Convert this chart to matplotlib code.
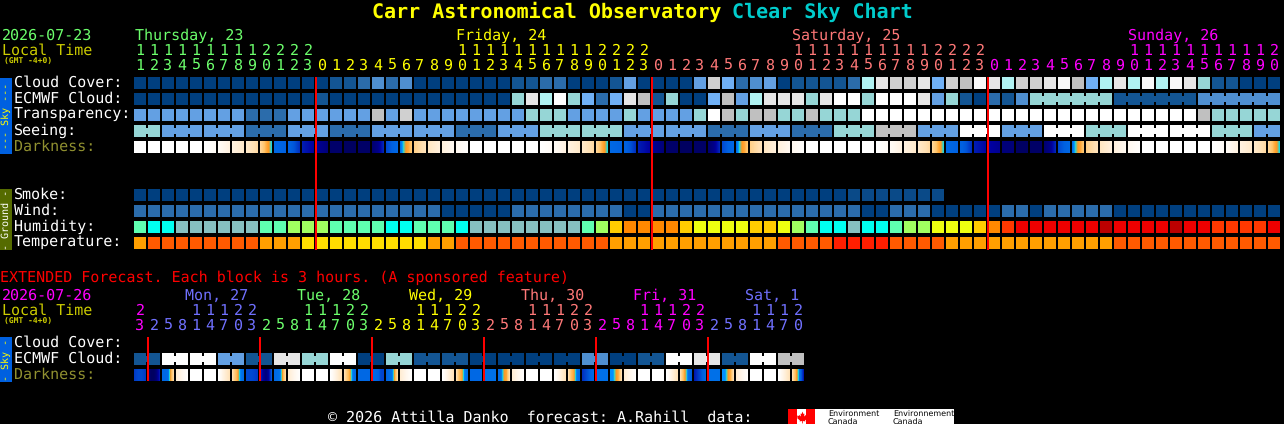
import numpy as np
import matplotlib
matplotlib.use("Agg")
import matplotlib.pyplot as plt
from matplotlib.colors import LinearSegmentedColormap, Normalize

plt.rcParams["text.hinting"] = "no_hinting"
plt.rcParams["text.hinting_factor"] = 1

# ---------- data: one key per block, keys are looked up in PALETTE ----------
CLOUD_COVER = list("aaaaaaaaaaaaaabbcdcda" "aaaaaabbccaaabeaaaaehfcdeabbbbc"
                   "uihhifhgjiuhhijgfuiujujitbbaaa")
ECMWF_CLOUD = list("aaaaaaaaaaaaabaaaaaaaaaaaaa" "tiuwtfcfigbtaafgeuiiitiwwtwwwietbacbd"
                   "tttttt" "bbbbbb" "dddddd")
ECMWF_RUNS = [(6, "t"), (6, "b"), (6, "d")]
TRANSPARENCY = list(
    "eeeeeeee" "ccc" "eeeeee" "g" "e" "h" "eeeeeeee" "ttt" "eeee" "t" "eeee"
    "t" "w" "g" "t" "g" "g" "t" "t" "g" "t" "t" "t"
    "wwwwwwwwwwwwwwwwwwwwwwww" "g" "ttttt")
SEEING_RUNS = [(2, "t"), (3, "e"), (3, "e"), (3, "c"), (3, "e"), (3, "c"), (3, "e"),
               (3, "e"), (3, "c"), (3, "e"), (3, "t"), (3, "t"), (3, "e"), (3, "e"),
               (3, "c"), (3, "e"), (3, "c"), (3, "t"), (3, "g"), (3, "e"), (3, "w"),
               (3, "e"), (3, "w"), (3, "t"), (3, "w"), (3, "w"), (3, "t"), (2, "e")]
SMOKE = list("a" * 51 + "k" * 7)
WIND = list("c" * 22 + "a" * 5 + "c" * 8 + "aa" + "c" * 15 + "aa" + "ccc"
            + "a" * 5 + "cc" + "a" + "c" * 5 + "a" * 12)
HUMIDITY = list("mqq" "vvvvvv" "mmlllmmmmqqmmmq" "vvvvvvvv" "mlo" "pppp" "o" "ssss"
                "oos" "lm" "qqv" "qq" "mll" "sss" "opr" "xxxxxx" "z" "xxxx" "z" "xx" "rrrr" "x")
TEMPERATURE = list("A" + "B" * 8 + "AAA" + "D" * 9 + "AA" + "B" * 11 + "A" * 12
                   + "BBBB" + "EEEE" + "BBBB" + "A" * 12 + "B" * 12)

# limiting magnitude sampled across each block (a single number = flat block)
DARKNESS = [-4, -4, -4, -4, -4, (-4, -3.7), (-3.7, -3.1), (-3.1, -2.6), (-2.6, -1.8),
            (-1.7, -1.3, -0.8, -0.5, 0.2), (1.5, 1.9), (1.9, 2.2, 3.0), (3.4, 4.0),
            (4.2, 4.8), 5.2, 5.5, 5.3, (5.0, 4.5, 3.2), (2.5, 1.5),
            (1.0, 0.2, -0.5, -0.7, -1.2), (-1.5, -2.2), (-2.4, -3), (-3, -3.5), (-3.5, -3.9),
            -4, -4, -4, -4, -4, (-4, -3.7), (-3.7, -3.1), (-3.1, -2.6), (-2.6, -1.8),
            (-1.7, -1.3, -0.8, -0.5, 0.2), (1.5, 1.9), (1.9, 2.2, 3.0), (3.4, 4.0),
            (4.2, 4.8), 5.2, 5.5, 5.3, (5.0, 4.5, 3.2), (2.5, 1.5),
            (1.0, 0.2, -0.5, -0.7, -1.2), (-1.5, -2.2), (-2.4, -3), (-3, -3.5), (-3.5, -3.9),
            -4, -4, -4, -4, -4, (-4, -3.7), (-3.7, -3.1), (-3.1, -2.6), (-2.6, -1.8),
            (-1.7, -1.3, -0.8, -0.5, 0.2), (1.5, 1.9), (1.9, 2.2, 3.0), (3.4, 3.9),
            (3.9, 4.3), 4.8, 5.4, 5.3, (5.0, 4.5, 3.2), (2.5, 1.5),
            (1.0, 0.2, -0.5, -0.7, -1.2), (-1.5, -2.2), (-2.4, -3), (-3, -3.5), (-3.5, -3.9),
            -4, -4, -4, -4, -4, (-4, -3.7), (-3.7, -3.1), (-3.1, -2.6), (-2.6, -1.8),
            (-1.7, -1.3, -0.8, -0.5, 0.2)]

EXT_ECMWF_RUNS = [(2, "b"), (2, "w"), (2, "w"), (2, "e"), (2, "b"), (2, "i"), (2, "t"),
                  (2, "w"), (2, "a"), (2, "t"), (2, "b"), (2, "b"), (2, "a"), (2, "a"),
                  (2, "a"), (2, "a"), (2, "d"), (2, "a"), (2, "b"), (2, "w"), (2, "i"),
                  (2, "b"), (2, "w"), (2, "g")]
EXT_DARKNESS = [(2.8, 2.5, 2.5, 2.8), (4.8, 5.5, 5.5, 4.8, 3.5), (1.5, 1.5, 1.2, -0.6, -1.8),
                (-2.8, -3.4, -3.9), -4, -4, (-4, -3, -2.2), (-2.0, -1.2, -0.6, 0.8, 1.2),
                (2.5, 2.5, 2.8), (3.2, 4.2, 4.8, 4.0, 2.2), (1.5, 1.2, 0.9, -0.6, -1.8),
                (-2.8, -3.9), -4, -4, (-4, -2.2), (-2.0, -1.2, -0.6, 0.8, 1.2),
                1.5, (1.5, 1.5, 1.8, 2.5, 2.6), (1.8, 1.2, 0.9, -0.6, -1.8), (-2.8, -3.9),
                -4, -4, (-4, -2.2), (-2.0, -1.0, -0.6, 0.8, 1.0),
                1.5, 1.0, (1.4, 0.9, -0.4, -0.7, -2.0), (-2.8, -3.9), -4, -4, (-4, -2.2),
                (-2.0, -1.0, -0.6, 0.8, 1.2), (3.0, 1.5), 1.0, (0.5, 0.5, -0.4, -0.8, -2.0),
                (-2.8, -3.9), -4, -4, (-4, -2.2), (-2.0, -1.0, -0.2, 1.2, 2.0), (3.5, 1.5),
                1.0, (0.5, 0.5, -0.4, -0.8, -2.0), (-2.8, -3.9), -4, -4, (-4, -2.2),
                (-2.0, -1.0, -0.1, 1.8, 3.5)]

HOURS = [11, 12, 13, 14, 15, 16, 17, 18, 19, 20, 21, 22, 23] + list(range(24)) * 2 \
    + list(range(21))
HOUR_DAY = [0] * 13 + [1] * 24 + [2] * 24 + [3] * 21
DAY_LABELS = [(0, "Thursday, 23", 0), (23, "Friday, 24", 1), (47, "Saturday, 25", 2),
              (71, "Sunday, 26", 3)]
DAY_COLORS = ["#6CFF6C", "#FFFF00", "#FF7878", "#FF00FF", "#7070FF"]
EXT_HOURS = [23, 2, 5, 8, 11, 14, 17, 20] * 6
EXT_DAY = [3] + [4] * 8 + [0] * 8 + [1] * 8 + [2] * 8 + [3] * 8 + [4] * 7
EXT_LABELS = [(3.64, "Mon, 27", 4), (11.64, "Tue, 28", 0), (19.64, "Wed, 29", 1),
              (27.64, "Thu, 30", 2), (35.64, "Fri, 31", 3), (43.64, "Sat, 1", 4)]

PALETTE = {"a": "#003F7F", "k": "#0A4A88", "b": "#135593", "c": "#2B6CAB", "d": "#4F8FD0",
           "e": "#63A0E3", "f": "#70B0F5", "t": "#96D6D6", "u": "#B0F2F2", "g": "#C0C0C0",
           "h": "#D0D0D0", "i": "#E6E6E6", "j": "#F8F8F8", "w": "#FFFFFF",
           "m": "#5FFFB0", "q": "#00FFF0", "v": "#86C0C0", "l": "#A0FF60", "s": "#EEFF10",
           "o": "#FFCC00", "p": "#FF8800", "r": "#FF3800", "x": "#EE0000", "z": "#BB0000",
           "A": "#FF9F00", "B": "#FF5A00", "D": "#FFDD00", "E": "#FF1E00"}
DARK_NODES = [(-4, "#FFFFFF"), (-3.5, "#FFF8F0"), (-3, "#FFF0DC"), (-2, "#FFDFB0"),
              (-1, "#FFC060"), (-0.5, "#FF9820"), (0.2, "#20D8D8"), (0.5, "#0090FF"),
              (1, "#0070E8"), (2, "#0060E0"), (3, "#0030C0"), (4, "#0000A0"),
              (5, "#000070"), (6, "#000050")]

# ---------- layout ----------
X0, PITCH, SIZE = 134, 14, 12
MONO = "DejaVu Sans Mono"
PX = 72 / 100
fig = plt.figure(figsize=(12.84, 4.24), dpi=100, facecolor="black")
ax = fig.add_axes([0, 0, 1, 1], facecolor="black")
ax.set_axis_off()

norm = Normalize(-4, 6)
cmap = LinearSegmentedColormap.from_list(
    "dark", [((v + 4) / 10, c) for v, c in DARK_NODES], N=512)


def left(i):
    return X0 + PITCH * np.asarray(i)


def rect(x, y, w, h, color, z=2):
    ax.bar(x, h, w, bottom=y, align="edge", color=color, linewidth=0, antialiased=False, zorder=z)


def row(keys, y):
    rect(left(np.arange(len(keys))), y, SIZE, SIZE, [PALETTE[k] for k in keys])


def expand(runs):
    return [k for n, k in runs for _ in range(n)]


def links(runs, y, start=0):
    i = start
    for n, k in runs:
        if n > 1:
            rect(left(np.arange(i, i + n - 1)) + SIZE, y + 3, PITCH - SIZE, SIZE - 6, PALETTE[k])
        i += n


def dark_row(values, y):
    px = np.arange(SIZE + 1)
    for i, v in enumerate(values):
        knots = np.atleast_1d(v)
        pos = np.linspace(0, SIZE - 1, len(knots)) if len(knots) > 1 else np.array([0.0])
        samples = np.interp(px[:-1], pos, knots)
        ax.pcolormesh(left(i) + px, [y, y + SIZE], samples[None, :], cmap=cmap, norm=norm,
                      shading="flat", antialiased=False, linewidth=0, zorder=2)


def txt(x, base, s, color="white", px=15, weight="normal", family=MONO, **kw):
    ax.text(x, base, s, color=color, fontsize=px * PX, fontweight=weight, family=family,
            va="baseline", ha=kw.pop("ha", "left"), zorder=5, **kw)


# title
txt(372, 18, "Carr Astronomical Observatory", "#FFFF00", 20, "bold")
txt(732, 18, "Clear Sky Chart", "#00CCCC", 20, "bold")

# main header
txt(2, 40, "2026-07-23", "#6CFF6C")
txt(2, 55, "Local Time", "#CCCC00")
txt(3.5, 63, "(GMT -4+0)", "#CCCC00", 8, "bold")
for col, label, c in DAY_LABELS:
    txt(left(col) + (1 if col == 0 else 0), 40, label, DAY_COLORS[c])
for i, (h, d) in enumerate(zip(HOURS, HOUR_DAY)):
    c = DAY_COLORS[d]
    if h >= 10:
        txt(left(i) + 6, 55, str(h // 10), c, ha="center")
    txt(left(i) + 6, 70, str(h % 10), c, ha="center")

# main rows
ROW_Y = {"cloud": 77, "ecmwf": 93, "transp": 109, "seeing": 125, "dark": 141,
         "smoke": 189, "wind": 205, "hum": 221, "temp": 237}
row(CLOUD_COVER, ROW_Y["cloud"])
row(ECMWF_CLOUD, ROW_Y["ecmwf"])
links(ECMWF_RUNS, ROW_Y["ecmwf"], start=len(ECMWF_CLOUD) - sum(n for n, _ in ECMWF_RUNS))
row(TRANSPARENCY, ROW_Y["transp"])
row(expand(SEEING_RUNS), ROW_Y["seeing"])
links(SEEING_RUNS, ROW_Y["seeing"])
dark_row(DARKNESS, ROW_Y["dark"])
row(SMOKE, ROW_Y["smoke"])
row(WIND, ROW_Y["wind"])
row(HUMIDITY, ROW_Y["hum"])
row(TEMPERATURE, ROW_Y["temp"])

for name, label in [("cloud", "Cloud Cover:"), ("ecmwf", "ECMWF Cloud:"),
                    ("transp", "Transparency:"), ("seeing", "Seeing:"), ("smoke", "Smoke:"),
                    ("wind", "Wind:"), ("hum", "Humidity:"), ("temp", "Temperature:")]:
    txt(14, ROW_Y[name] + 10, label)
txt(14, ROW_Y["dark"] + 10, "Darkness:", "#909030")

# side bars
rect(0, 78, 12, 76, "#0060E0")
rect(0, 189, 12, 61, "#556B00")
rect(0, 337, 12, 45, "#0060E0")
for yc, s, c in [(116, "--- Sky ---", "#FFFF00"), (219.5, "- Ground -", "white"),
                 (359.5, "- Sky -", "#FFFF00")]:
    ax.text(6, yc, s, color=c, fontsize=10 * PX, family=MONO, rotation=90,
            ha="center", va="center", zorder=5)

# day boundary lines
for i in [j for j, h in enumerate(HOURS) if h == 0]:
    rect(left(i) - 1, 77, 2, 173, "#FF0000", z=4)

# extended section
txt(0, 282, "EXTENDED Forecast. Each block is 3 hours. (A sponsored feature)", "#FF0000")
txt(2, 300, "2026-07-26", "#FF00FF")
txt(2, 315, "Local Time", "#CCCC00")
txt(3.5, 323, "(GMT -4+0)", "#CCCC00", 8, "bold")
for col, label, c in EXT_LABELS:
    txt(left(col), 300, label, DAY_COLORS[c])
for i, (h, d) in enumerate(zip(EXT_HOURS, EXT_DAY)):
    c = DAY_COLORS[d]
    if h >= 10:
        txt(left(i) + 6, 315, str(h // 10), c, ha="center")
    txt(left(i) + 6, 330, str(h % 10), c, ha="center")
txt(14, 347, "Cloud Cover:")
txt(14, 363, "ECMWF Cloud:")
txt(14, 379, "Darkness:", "#909030")
row(expand(EXT_ECMWF_RUNS), 353)
links(EXT_ECMWF_RUNS, 353)
dark_row(EXT_DARKNESS, 369)
for i in [j for j, h in enumerate(EXT_HOURS) if h == 2]:
    rect(left(i) - 1, 337, 2, 44, "#FF0000", z=4)

# footer
txt(328, 422, "\u00a9 2026 Attilla Danko  forecast: A.Rahill  data:")
rect(788, 409, 166, 15, "white")
rect(788, 409, 9, 15, "#FF0000", z=3)
rect(806, 409, 9, 15, "#FF0000", z=3)
leaf = np.array([(0, 6), (1, 3.5), (2, 4), (1.6, 1), (3.4, 2.6), (3.8, 1.6), (5.6, 1.9),
                 (5, 0), (5.6, -0.5), (2.6, -3), (3, -4), (0.4, -3.6), (0.4, -6), (-0.4, -6),
                 (-0.4, -3.6), (-3, -4), (-2.6, -3), (-5.6, -0.5), (-5, 0), (-5.6, 1.9),
                 (-3.8, 1.6), (-3.4, 2.6), (-1.6, 1), (-2, 4), (-1, 3.5), (0, 6)])
ax.plot([801.5], [416.5], marker=leaf, markersize=8.5, color="#FF0000", markeredgewidth=0,
        linestyle="none", zorder=4)
for x, word in [(828, "Environment"), (893, "Environnement")]:
    txt(x, 416, word, "black", 8, family="DejaVu Sans")
    txt(x, 423.5, "Canada", "black", 8, family="DejaVu Sans")

ax.set_xlim(0, 1284)
ax.set_ylim(424, 0)
fig.savefig("out.png", dpi=100, facecolor="black")
